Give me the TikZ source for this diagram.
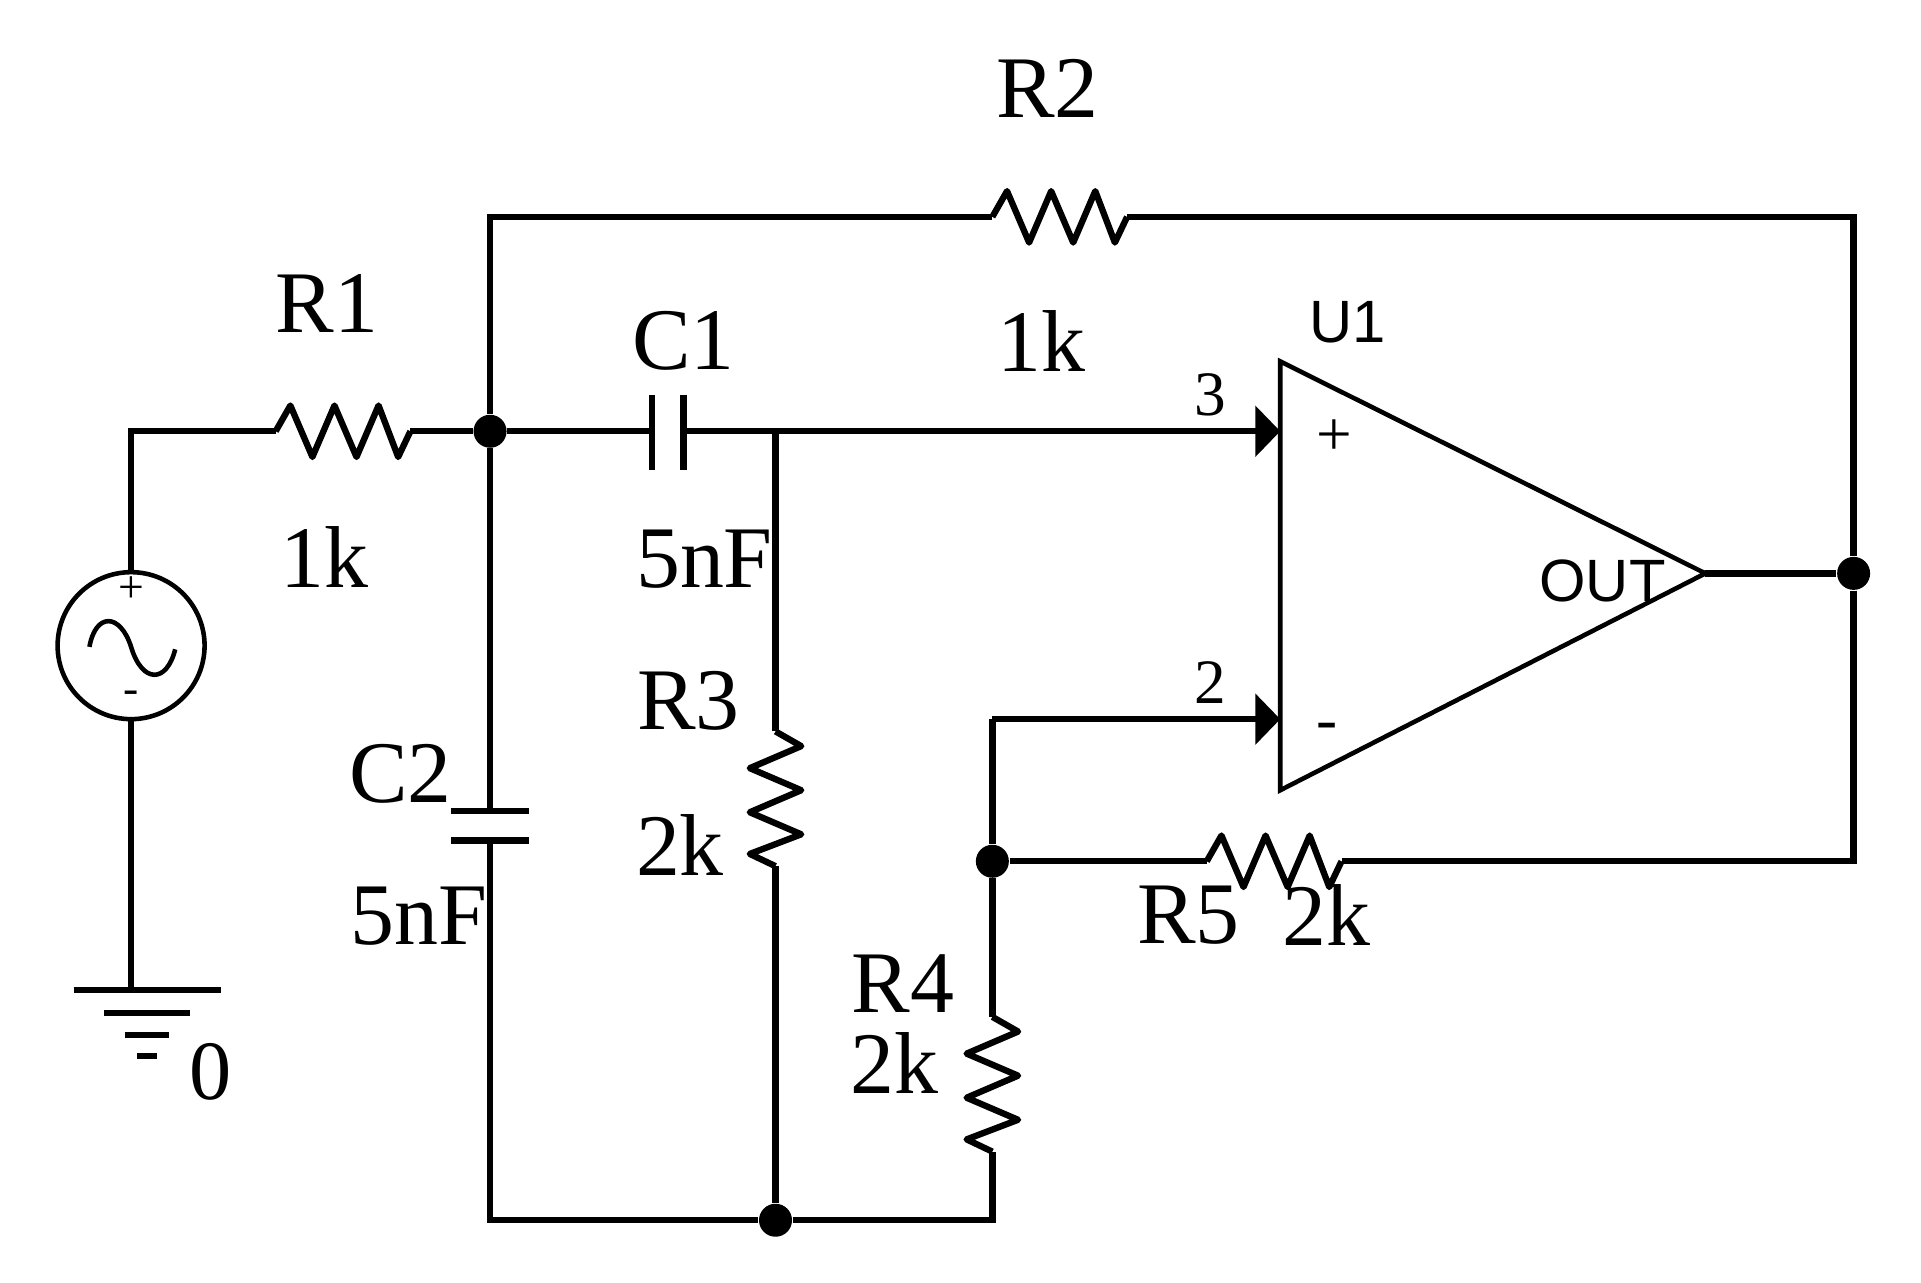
\documentclass[tikz,border=0pt]{standalone}
\usepackage{fontspec}
\setmainfont{Liberation Serif}
\newfontfamily\pinfont{Liberation Sans}
\usetikzlibrary{arrows.meta, positioning, calc}
\tikzset{
  wire/.style={line width=1.8pt},
  thinline/.style={line width=1.3pt},
  junction/.style={circle,fill=black,inner sep=0pt,minimum size=0.33cm},
  partlabel/.style={inner sep=0pt,font=\fontsize{25}{30}\selectfont},
  pinlabel/.style={inner sep=0pt,font=\fontsize{18}{21}\selectfont},
  icolabel/.style={inner sep=0pt,font=\pinfont\fontsize{17}{20}\selectfont},
  pintip/.style={-{Triangle[length=0.25cm,width=0.5cm]}},
  pics/reszig/.style={code={
    \draw[wire,line join=round] (0,0) -- (12,-21) -- (30,21) -- (48,-21) -- (66,21)
      -- (84,-21) -- (100,21) -- (110,0);
    \coordinate (-a) at (0,0);
    \coordinate (-b) at (110,0);
  }}
}
\begin{document}
\begin{tikzpicture}[x=0.012251cm,y=-0.012251cm]
\useasboundingbox (0,0) rectangle (1568,1047.2);

% Junctions
\node[junction] (n1) at (400,352) {};
\node[junction] (n2) at (633,996) {};
\node[junction] (n3) at (810,703) {};
\node[junction] (n4) at (1513,468) {};

% Source and ground
\node[circle,draw,thinline,minimum size=1.47cm,inner sep=0pt] (vsrc) at (107,527) {};
\draw[thinline] (73,528) .. controls (78,500) and (98,500) .. (107,528)
  .. controls (116,558) and (136,558) .. (143,530);
\node[pinlabel,font=\fontsize{13}{15}\selectfont] (vplus) at (107,481) {+};
\node[pinlabel,font=\fontsize{13}{15}\selectfont] (vminus) at (107,569) {-};
\coordinate (gnd) at (107,808);
\foreach \y/\w in {808/60, 827/35, 845/18} {
    \draw[wire] (120-\w,\y) -- (120+\w,\y);
}
\draw[wire] (112,862) -- (128,862);
\node[partlabel,font=\fontsize{24}{28}\selectfont] (gndlabel) at (172,875) {0};

% Resistors
\pic (R1) at (225,352) {reszig};
\pic (R2) at (810,177) {reszig};
\pic (R5) at (985,703) {reszig};
\pic[rotate=-90] (R3) at (633,597) {reszig};
\pic[rotate=-90] (R4) at (810,830) {reszig};

% Capacitors
\coordinate (C1a) at (532,352);
\coordinate (C1b) at (558,352);
\coordinate (C2a) at (400,662);
\coordinate (C2b) at (400,686);
\draw[wire] (532,322) -- (532,384);
\draw[wire] (558,322) -- (558,384);
\draw[wire] (368,662) -- (432,662);
\draw[wire] (368,686) -- (432,686);

% Op amp
\coordinate (opplus) at (1045,352);
\coordinate (opminus) at (1045,587);
\coordinate (opout) at (1392,468);
\draw[thinline,line join=miter] (1045,295) -- (opout) -- (1045,645) -- cycle;

% Wiring
\coordinate (tee) at (633,352);
\coordinate (fb) at (810,587);
\draw[wire] (vsrc.north) |- (R1-a);
\draw[wire] (R1-b) -- (n1);
\draw[wire] (vsrc.south) -- (gnd);
\draw[wire] (n1) |- (R2-a);
\draw[wire] (R2-b) -| (n4);
\draw[wire] (opout) -- (n4);
\draw[wire] (n4) |- (R5-b);
\draw[wire] (R5-a) -- (n3);
\draw[wire] (n1) -- (C1a);
\draw[wire] (C1b) -- (tee);
\draw[wire,pintip] (tee) -- (opplus);
\draw[wire] (tee) -- (R3-a);
\draw[wire] (R3-b) -- (n2);
\draw[wire] (n1) -- (C2a);
\draw[wire] (C2b) |- (n2);
\draw[wire] (n2) -| (R4-b);
\draw[wire] (R4-a) -- (n3);
\draw[wire] (n3) -- (fb);
\draw[wire,pintip] (fb) -- (opminus);

% Labels
\node[partlabel] (lR1) at (267,248) {R1};
\node[partlabel] (vR1) at (265,455) {1k};
\node[partlabel] (lR2) at (855,72) {R2};
\node[partlabel] (vR2) at (850,278) {1k};
\node[partlabel] (lC1) at (558,278) {C1};
\node[partlabel] (vC1) at (575,456) {5nF};
\node[partlabel] (lR3) at (562,572) {R3};
\node[partlabel] (vR3) at (555,690) {2k};
\node[partlabel] (lC2) at (327,632) {C2};
\node[partlabel] (vC2) at (342,748) {5nF};
\node[partlabel] (lR4) at (737,803) {R4};
\node[partlabel] (vR4) at (730,868) {2k};
\node[partlabel] (lR5) at (970,747) {R5};
\node[partlabel] (vR5) at (1083,747) {2k};
\node[pinlabel] (p3) at (988,322) {3};
\node[pinlabel] (p2) at (988,557) {2};
\node[icolabel] (lU1) at (1100,263) {U1};
\node[icolabel] (lOut) at (1308,474) {OUT};
\node[pinlabel] (lplus) at (1089,357) {+};
\node[pinlabel] (lminus) at (1083,597) {-};

\end{tikzpicture}
\end{document}
